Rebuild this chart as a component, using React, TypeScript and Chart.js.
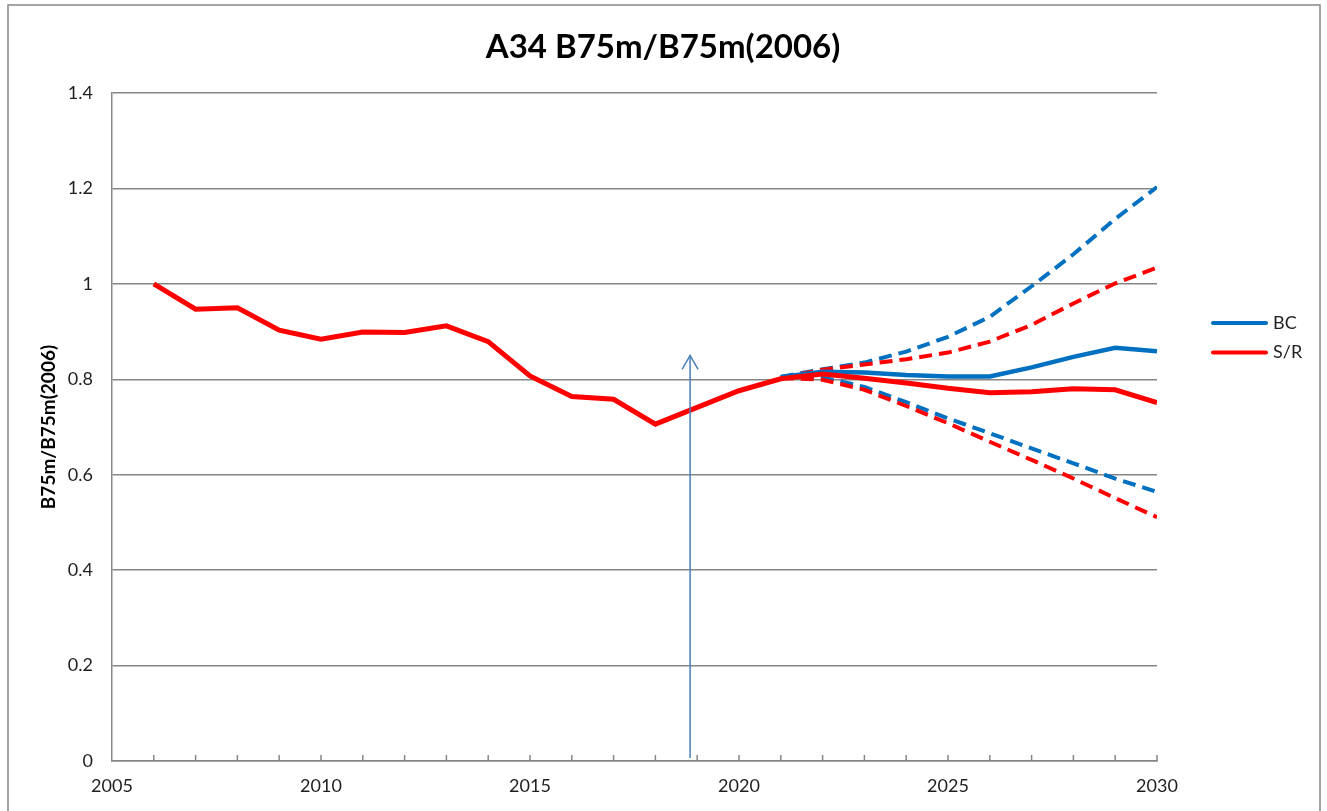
import { useEffect, useRef } from "react";
import { Chart, registerables } from "chart.js";

Chart.register(...registerables);

// ---- data ----
const years = [
  2006, 2007, 2008, 2009, 2010, 2011, 2012, 2013, 2014, 2015, 2016, 2017, 2018,
  2019, 2020, 2021, 2022, 2023, 2024, 2025, 2026, 2027, 2028, 2029, 2030,
];
const srCentral = [
  1.0, 0.947, 0.95, 0.903, 0.884, 0.899, 0.898, 0.912, 0.879, 0.807, 0.764, 0.758,
  0.706, 0.741, 0.776, 0.801, 0.811, 0.802, 0.792, 0.781, 0.772, 0.774, 0.78, 0.778, 0.751,
];
const projYears = [2021, 2022, 2023, 2024, 2025, 2026, 2027, 2028, 2029, 2030];
const bcCentral = [0.805, 0.816, 0.814, 0.809, 0.806, 0.806, 0.825, 0.847, 0.866, 0.859];
const bcHigh = [0.805, 0.821, 0.835, 0.858, 0.889, 0.931, 0.995, 1.062, 1.136, 1.203];
const bcLow = [0.805, 0.804, 0.784, 0.752, 0.718, 0.687, 0.655, 0.624, 0.592, 0.564];
const srHigh = [0.803, 0.82, 0.831, 0.842, 0.856, 0.879, 0.914, 0.959, 1.001, 1.034];
const srLow = [0.803, 0.799, 0.778, 0.744, 0.708, 0.669, 0.631, 0.592, 0.551, 0.511];

const arrowYear = 2018.83;
const arrowTop = 0.85;

const titleText = "A34 B75m/B75m(2006)";
const yAxisTitle = "B75m/B75m(2006)";
const legendLabels = ["BC", "S/R"];

const BLUE = "#0070c0";
const RED = "#ff0000";
const GRID = "#868686";
const TEXT = "#1f1f1f";
const FONT = "Lato";

const pts = (xs: number[], ys: number[]) => xs.map((x, i) => ({ x, y: ys[i] }));

const decor = {
  id: "decor",
  beforeDraw(chart: any) {
    const ctx = chart.ctx;
    ctx.save();
    ctx.fillStyle = "#ffffff";
    ctx.fillRect(0, 0, chart.width, chart.height);
    ctx.strokeStyle = "#878787";
    ctx.lineWidth = 1.5;
    ctx.strokeRect(8, 5, 1312, 900);
    ctx.restore();
  },
  afterDatasetsDraw(chart: any) {
    const ctx = chart.ctx;
    const xs = chart.scales.x;
    const ys = chart.scales.y;
    const ax = xs.getPixelForValue(arrowYear);
    const y0 = ys.getPixelForValue(0) - 3;
    const y1 = ys.getPixelForValue(arrowTop);
    ctx.save();
    ctx.strokeStyle = "#4a7ebb";
    ctx.lineWidth = 1.5;
    ctx.beginPath();
    ctx.moveTo(ax, y0);
    ctx.lineTo(ax, y1);
    ctx.stroke();
    ctx.beginPath();
    ctx.moveTo(ax - 8, y1 + 14);
    ctx.lineTo(ax, y1);
    ctx.lineTo(ax + 8, y1 + 14);
    ctx.stroke();
    ctx.restore();
  },
  afterDraw(chart: any) {
    const ctx = chart.ctx;
    const xs = chart.scales.x;
    const area = chart.chartArea;
    ctx.save();
    ctx.strokeStyle = GRID;
    ctx.lineWidth = 1.5;
    years.forEach((yr) => {
      const x = xs.getPixelForValue(yr);
      ctx.beginPath();
      ctx.moveTo(x, area.bottom);
      ctx.lineTo(x, area.bottom - 6);
      ctx.stroke();
    });
    ctx.fillStyle = "#000000";
    ctx.font = `bold 33px ${FONT}`;
    ctx.textAlign = "center";
    ctx.textBaseline = "middle";
    ctx.fillText(titleText, 663, 47);
    const colors = [BLUE, RED];
    legendLabels.forEach((lab, i) => {
      const y = 323 + i * 29.5;
      ctx.strokeStyle = colors[i];
      ctx.lineWidth = 4;
      ctx.lineCap = "round";
      ctx.beginPath();
      ctx.moveTo(1213, y);
      ctx.lineTo(1266, y);
      ctx.stroke();
      ctx.fillStyle = TEXT;
      ctx.font = `18px ${FONT}`;
      ctx.textAlign = "left";
      ctx.textBaseline = "middle";
      ctx.fillText(lab, 1273, y);
    });
    ctx.restore();
  },
};

export default function App() {
  const ref = useRef<HTMLCanvasElement | null>(null);
  useEffect(() => {
    if (!ref.current) return;
    const dash = [13, 7];
    const chart = new Chart(ref.current, {
      type: "line",
      data: {
        datasets: [
          { label: "S/R", data: pts(years, srCentral), borderColor: RED, borderWidth: 5 },
          { label: "BC", data: pts(projYears, bcCentral), borderColor: BLUE, borderWidth: 4.5 },
          { label: "S/R high", data: pts(projYears, srHigh), borderColor: RED, borderWidth: 4, borderDash: dash },
          { label: "S/R low", data: pts(projYears, srLow), borderColor: RED, borderWidth: 4, borderDash: dash },
          { label: "BC high", data: pts(projYears, bcHigh), borderColor: BLUE, borderWidth: 4, borderDash: dash },
          { label: "BC low", data: pts(projYears, bcLow), borderColor: BLUE, borderWidth: 4, borderDash: dash },
        ] as any,
      },
      options: {
        animation: false,
        responsive: false,
        layout: { padding: { left: 0, top: 93, right: 170, bottom: 0 } },
        elements: { point: { radius: 0 }, line: { tension: 0, borderCapStyle: "butt" } },
        plugins: { legend: { display: false }, title: { display: false }, tooltip: { enabled: false } },
        scales: {
          x: {
            type: "linear",
            min: 2005,
            max: 2030,
            ticks: {
              stepSize: 5,
              padding: 14,
              maxRotation: 0,
              color: TEXT,
              font: { family: FONT, size: 18 },
              callback: (v: any) => String(v),
            },
            grid: { display: false, drawTicks: false },
            border: { display: true, color: GRID, width: 1.5 },
            afterFit: (s: any) => {
              s.height = 50;
            },
          },
          y: {
            min: 0,
            max: 1.4,
            ticks: {
              stepSize: 0.2,
              padding: 19,
              color: TEXT,
              font: { family: FONT, size: 18 },
              callback: (v: any) => String(Math.round(v * 10) / 10),
            },
            grid: { color: GRID, lineWidth: 1.5, drawTicks: false },
            border: { display: true, color: GRID, width: 1.5 },
            title: {
              display: true,
              text: yAxisTitle,
              color: "#000000",
              font: { family: FONT, size: 19, weight: "bold" },
              padding: { top: 37, bottom: 0 },
            },
            afterFit: (s: any) => {
              s.width = 112;
            },
          },
        },
      } as any,
      plugins: [decor],
    });
    return () => chart.destroy();
  }, []);
  return (
    <canvas
      ref={ref}
      width={1327}
      height={811}
      style={{ position: "absolute", left: 0, top: 0, display: "block" }}
    />
  );
}
